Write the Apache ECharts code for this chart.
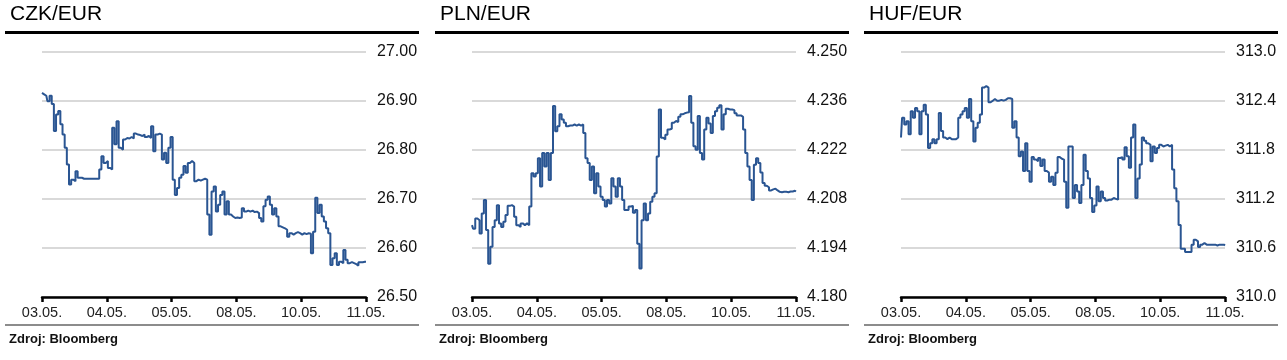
<!DOCTYPE html>
<html>
<head>
<meta charset="utf-8">
<script src="https://cdn.jsdelivr.net/npm/echarts@6/dist/echarts.min.js"></script>
<style>
html,body{margin:0;padding:0;background:#fff;}
#c{width:1287px;height:360px;}
</style>
</head>
<body>
<div id="c"></div>
<script>
// ---- data ----
const dateLabels = ['03.05.', '04.05.', '05.05.', '08.05.', '10.05.', '11.05.'];
const titles = ['CZK/EUR', 'PLN/EUR', 'HUF/EUR'];
const sourceText = 'Zdroj: Bloomberg';

const czkTicks = [26.5, 26.6, 26.7, 26.8, 26.9, 27.0];
const plnTicks = [4.180, 4.194, 4.208, 4.222, 4.236, 4.250];
const hufTicks = [310.0, 310.6, 311.2, 311.8, 312.4, 313.0];

const czk = [
26.916,26.913,26.910,26.899,26.910,26.893,26.838,26.872,26.879,26.852,
26.831,26.804,26.770,26.729,26.739,26.736,26.756,26.743,26.743,26.741,
26.741,26.741,26.741,26.741,26.741,26.741,26.741,26.760,26.787,26.773,
26.777,26.763,26.760,26.845,26.811,26.858,26.804,26.800,26.821,26.824,
26.823,26.826,26.823,26.833,26.831,26.830,26.828,26.831,26.826,26.828,
26.824,26.848,26.797,26.831,26.833,26.831,26.780,26.794,26.773,26.804,
26.826,26.739,26.708,26.722,26.743,26.749,26.767,26.753,26.773,26.777,
26.773,26.736,26.739,26.737,26.739,26.741,26.739,26.668,26.627,26.715,
26.725,26.674,26.688,26.708,26.715,26.668,26.695,26.668,26.664,26.661,
26.662,26.661,26.662,26.681,26.674,26.676,26.674,26.676,26.673,26.674,
26.671,26.661,26.654,26.685,26.698,26.705,26.688,26.668,26.681,26.664,
26.644,26.642,26.640,26.637,26.623,26.630,26.627,26.630,26.632,26.630,
26.627,26.630,26.628,26.630,26.629,26.589,26.633,26.702,26.671,26.688,
26.664,26.654,26.640,26.630,26.565,26.579,26.589,26.565,26.572,26.569,
26.596,26.576,26.569,26.571,26.569,26.567,26.564,26.571,26.571,26.572,
26.572
];

const pln = [
4.2005,4.1995,4.2024,4.2019,4.1981,4.2038,4.2077,4.1991,4.1895,4.1943,
4.2000,4.2019,4.2062,4.2010,4.2000,4.2015,4.2034,4.2060,4.2062,4.2058,
4.2029,4.2005,4.2000,4.2010,4.2005,4.2010,4.2005,4.2058,4.2153,4.2144,
4.2153,4.2196,4.2115,4.2211,4.2172,4.2211,4.2134,4.2211,4.2345,4.2273,
4.2287,4.2321,4.2306,4.2297,4.2287,4.2289,4.2289,4.2292,4.2289,4.2292,
4.2289,4.2292,4.2268,4.2196,4.2182,4.2134,4.2172,4.2096,4.2153,4.2115,
4.2086,4.2077,4.2058,4.2077,4.2067,4.2139,4.2115,4.2086,4.2139,4.2115,
4.2077,4.2048,4.2048,4.2058,4.2060,4.2040,4.2048,4.1952,4.1881,4.2019,
4.2067,4.2019,4.2038,4.2072,4.2086,4.2096,4.2201,4.2335,4.2254,4.2249,
4.2263,4.2278,4.2280,4.2297,4.2302,4.2299,4.2314,4.2321,4.2324,4.2326,
4.2327,4.2373,4.2297,4.2230,4.2220,4.2316,4.2211,4.2192,4.2278,4.2311,
4.2295,4.2268,4.2316,4.2330,4.2340,4.2347,4.2278,4.2321,4.2337,4.2335,
4.2335,4.2333,4.2324,4.2318,4.2318,4.2314,4.2278,4.2211,4.2172,4.2134,
4.2077,4.2177,4.2196,4.2182,4.2155,4.2125,4.2117,4.2113,4.2104,4.2107,
4.2109,4.2104,4.2100,4.2099,4.2100,4.2100,4.2099,4.2101,4.2101,4.2103,
4.2101
];

const huf = [
311.95,312.19,312.11,312.15,311.99,312.27,312.19,312.31,312.27,311.99,
312.27,312.35,312.23,311.82,311.88,311.93,311.88,311.93,312.25,312.03,
311.95,311.93,311.95,311.93,311.93,311.93,311.95,312.19,312.23,312.27,
312.31,312.19,312.42,312.15,311.90,312.07,312.13,312.23,312.56,312.58,
312.56,312.38,312.40,312.42,312.40,312.40,312.41,312.40,312.41,312.43,
312.43,312.42,312.07,312.15,311.95,311.72,311.78,311.54,311.88,311.54,
311.41,311.71,311.68,311.66,311.70,311.60,311.68,311.54,311.52,311.41,
311.47,311.37,311.52,311.71,311.69,311.68,311.41,311.09,311.84,311.84,
311.21,311.37,311.29,311.15,311.37,311.74,311.54,311.45,311.21,311.04,
311.12,311.35,311.17,311.29,311.21,311.18,311.19,311.19,311.21,311.20,
311.19,311.70,311.71,311.68,311.83,311.72,311.58,311.95,312.11,311.21,
311.45,311.62,311.95,311.91,311.88,311.86,311.66,311.84,311.76,311.82,
311.86,311.84,311.85,311.86,311.84,311.86,311.56,311.33,311.17,310.88,
310.59,310.59,310.55,310.55,310.55,310.64,310.70,310.68,310.61,310.64,
310.66,310.64,310.64,310.64,310.64,310.64,310.63,310.64,310.64,310.64,
310.63
];

// ---- chart ----
const panels = [
  {values: czk, ticks: czkTicks, dec: 2, off: 0},
  {values: pln, ticks: plnTicks, dec: 3, off: 430},
  {values: huf, ticks: hufTicks, dec: 1, off: 859}
];
const N = czk.length - 1;
const step = N / (dateLabels.length - 1);
const FONT = '"Liberation Sans", Arial, Helvetica, sans-serif';
const lineColor = '#2a5592';

const chart = echarts.init(document.getElementById('c'), null, {renderer: 'canvas', width: 1287, height: 360});

const grids = [], xAxes = [], yAxes = [], series = [], graphics = [];
panels.forEach((p, k) => {
  grids.push({left: 42 + p.off, top: 51.6, width: 324, height: 245.4, containLabel: false});
  xAxes.push({
    type: 'value', gridIndex: k, min: 0, max: N, interval: step,
    axisLine: {show: true, lineStyle: {color: '#000', width: 2.5}},
    axisTick: {show: true, length: 5, lineStyle: {color: '#000', width: 2.5}},
    splitLine: {show: false},
    axisLabel: {
      show: true, margin: 8.5, fontSize: 14.5, color: '#222', fontFamily: FONT,
      showMinLabel: true, showMaxLabel: true,
      formatter: v => dateLabels[Math.round(v / step)] || ''
    }
  });
  yAxes.push({
    type: 'value', gridIndex: k, position: 'right',
    min: p.ticks[0], max: p.ticks[p.ticks.length - 1],
    axisLine: {show: false},
    axisTick: {show: false, customValues: p.ticks},
    splitLine: {show: true, lineStyle: {color: '#d9d9d9', width: 2}},
    axisLabel: {
      show: true, margin: 11, fontSize: 16, color: '#111', fontFamily: FONT,
      customValues: p.ticks,
      formatter: v => Number(v).toFixed(p.dec)
    }
  });
  series.push({
    type: 'line', xAxisIndex: k, yAxisIndex: k,
    data: p.values.map((v, i) => [i, v]),
    showSymbol: false, symbol: 'none', step: 'middle',
    lineStyle: {color: lineColor, width: 2},
    animation: false, z: 3
  });
  const L = 5 + p.off, W = 414;
  graphics.push(
    {type: 'text', x: L + 5, y: 14, style: {text: titles[k], font: '21px ' + FONT, fill: '#000', verticalAlign: 'middle'}},
    {type: 'rect', shape: {x: L, y: 31, width: W, height: 3}, style: {fill: '#000'}},
    {type: 'rect', shape: {x: L, y: 324, width: W, height: 2}, style: {fill: '#8c8c8c'}},
    {type: 'text', x: L + 4, y: 339.5, style: {text: sourceText, font: 'bold 13px ' + FONT, fill: '#111', verticalAlign: 'middle'}}
  );
});

chart.setOption({
  animation: false,
  backgroundColor: '#fff',
  grid: grids,
  xAxis: xAxes,
  yAxis: yAxes,
  series: series,
  graphic: graphics
});
</script>
</body>
</html>
